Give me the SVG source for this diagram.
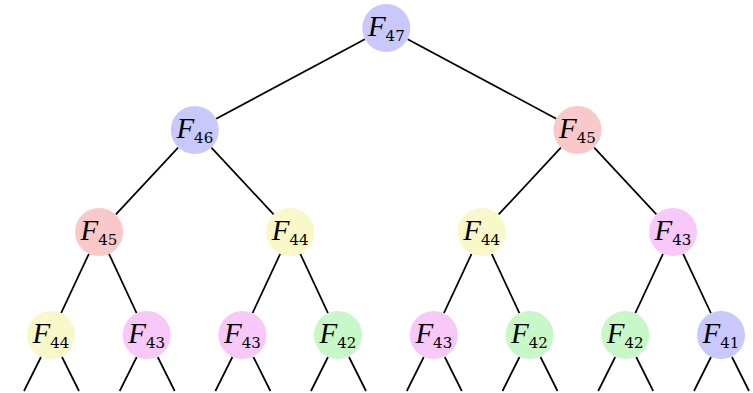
<svg xmlns="http://www.w3.org/2000/svg" width="753" height="393" viewBox="0 0 753 393">
<style>
.e{stroke:#000;stroke-width:1.7;fill:none;stroke-linecap:butt}
.b{fill:#c8c8fa}.r{fill:#f9c8c8}.y{fill:#f8f8c8}.m{fill:#f8c8f8}.g{fill:#c8f8c8}
.t{font-family:"Liberation Serif","Times New Roman",serif;font-size:29px;fill:#000;text-anchor:middle}
.f{font-family:"Liberation Serif","Times New Roman",serif;font-style:italic}
.s{font-family:"DejaVu Serif","Liberation Serif",serif;font-style:normal;font-size:15px}
</style>
<rect width="753" height="393" fill="#fff"/>
<g id="connectors">
<line class="e" x1="364.8" y1="39.3" x2="216.2" y2="118.7"/>
<line class="e" x1="407.7" y1="39.3" x2="556.3" y2="118.7"/>
<line class="e" x1="178.1" y1="147.6" x2="115.9" y2="214.4"/>
<line class="e" x1="211.4" y1="147.6" x2="273.6" y2="214.4"/>
<line class="e" x1="560.9" y1="147.6" x2="498.7" y2="214.4"/>
<line class="e" x1="594.2" y1="147.6" x2="656.4" y2="214.4"/>
<line class="e" x1="88.9" y1="253.8" x2="61.1" y2="313.2"/>
<line class="e" x1="109.0" y1="253.8" x2="136.6" y2="313.2"/>
<line class="e" x1="280.2" y1="253.8" x2="252.5" y2="313.2"/>
<line class="e" x1="300.3" y1="253.8" x2="328.0" y2="313.2"/>
<line class="e" x1="471.6" y1="253.8" x2="443.9" y2="313.2"/>
<line class="e" x1="491.7" y1="253.8" x2="519.4" y2="313.2"/>
<line class="e" x1="663.0" y1="253.8" x2="635.3" y2="313.2"/>
<line class="e" x1="683.1" y1="253.8" x2="710.9" y2="313.2"/>
<path class="e" d="M41,357L24,391M62,357L79,391M136.7,357L119.7,391M157.7,357L174.7,391M232.4,357L215.4,391M253.4,357L270.4,391M328,357L311,391M349,357L366,391M423.8,357L406.8,391M444.8,357L461.8,391M519.5,357L502.5,391M540.5,357L557.5,391M615.2,357L598.2,391M636.2,357L653.2,391M711,357L694,391M732,357L749,391"/>
</g>
<g id="n47"><circle class="b" cx="386.3" cy="28" r="24"/><text class="t" x="386.3" y="36"><tspan class="f">F</tspan><tspan class="s" dy="5">47</tspan></text></g>
<g id="n46"><circle class="b" cx="194.8" cy="130" r="24"/><text class="t" x="194.8" y="138"><tspan class="f">F</tspan><tspan class="s" dy="5">46</tspan></text></g>
<g id="n45a"><circle class="r" cx="577.5" cy="130" r="24"/><text class="t" x="577.5" y="138"><tspan class="f">F</tspan><tspan class="s" dy="5">45</tspan></text></g>
<g id="n45b"><circle class="r" cx="99" cy="232" r="24"/><text class="t" x="99" y="240"><tspan class="f">F</tspan><tspan class="s" dy="5">45</tspan></text></g>
<g id="n44a"><circle class="y" cx="290.2" cy="232" r="24"/><text class="t" x="290.2" y="240"><tspan class="f">F</tspan><tspan class="s" dy="5">44</tspan></text></g>
<g id="n44b"><circle class="y" cx="481.6" cy="232" r="24"/><text class="t" x="481.6" y="240"><tspan class="f">F</tspan><tspan class="s" dy="5">44</tspan></text></g>
<g id="n43a"><circle class="m" cx="673" cy="232" r="24"/><text class="t" x="673" y="240"><tspan class="f">F</tspan><tspan class="s" dy="5">43</tspan></text></g>
<g id="n44c"><circle class="y" cx="51" cy="335" r="24"/><text class="t" x="51" y="343"><tspan class="f">F</tspan><tspan class="s" dy="5">44</tspan></text></g>
<g id="n43b"><circle class="m" cx="146.7" cy="335" r="24"/><text class="t" x="146.7" y="343"><tspan class="f">F</tspan><tspan class="s" dy="5">43</tspan></text></g>
<g id="n43c"><circle class="m" cx="242.4" cy="335" r="24"/><text class="t" x="242.4" y="343"><tspan class="f">F</tspan><tspan class="s" dy="5">43</tspan></text></g>
<g id="n42a"><circle class="g" cx="338" cy="335" r="24"/><text class="t" x="338" y="343"><tspan class="f">F</tspan><tspan class="s" dy="5">42</tspan></text></g>
<g id="n43d"><circle class="m" cx="433.8" cy="335" r="24"/><text class="t" x="433.8" y="343"><tspan class="f">F</tspan><tspan class="s" dy="5">43</tspan></text></g>
<g id="n42b"><circle class="g" cx="529.5" cy="335" r="24"/><text class="t" x="529.5" y="343"><tspan class="f">F</tspan><tspan class="s" dy="5">42</tspan></text></g>
<g id="n42c"><circle class="g" cx="625.2" cy="335" r="24"/><text class="t" x="625.2" y="343"><tspan class="f">F</tspan><tspan class="s" dy="5">42</tspan></text></g>
<g id="n41"><circle class="b" cx="721" cy="335" r="24"/><text class="t" x="721" y="343"><tspan class="f">F</tspan><tspan class="s" dy="5">41</tspan></text></g>
</svg>
